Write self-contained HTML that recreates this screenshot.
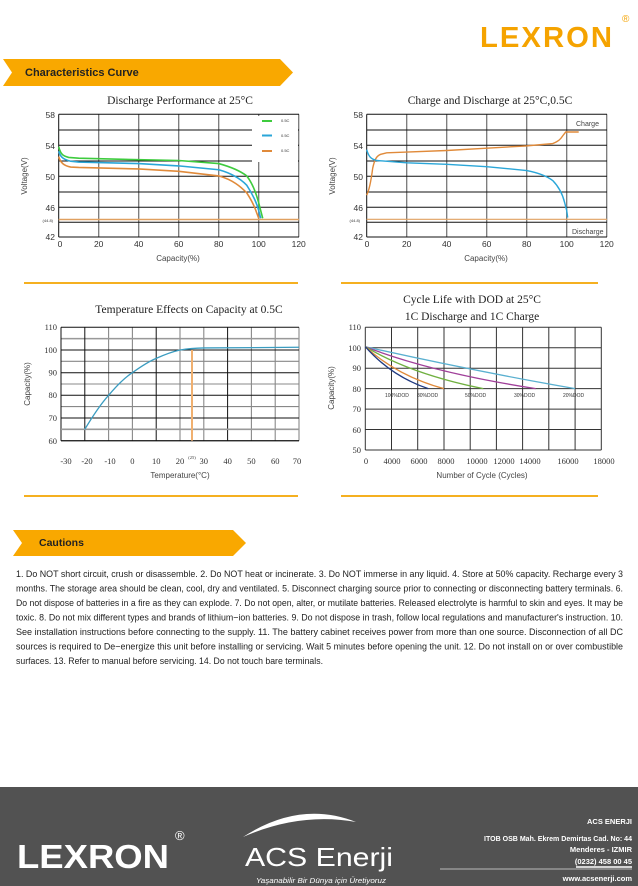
<!DOCTYPE html>
<html><head><meta charset="utf-8"><style>
body{margin:0;width:638px;height:886px;background:#fff;overflow:hidden;font-family:"Liberation Sans",sans-serif}
svg{position:absolute;left:0;top:0}
</style></head><body>
<svg width="638" height="886" viewBox="0 0 638 886" xmlns="http://www.w3.org/2000/svg" font-family="Liberation Sans, sans-serif">
<!-- header -->
<text x="480" y="47" font-size="29" font-weight="bold" fill="#f5a300" letter-spacing="2" textLength="134" lengthAdjust="spacingAndGlyphs">LEXRON</text>
<text x="622" y="22" font-size="10" fill="#f5a300">®</text>
<polygon points="3,59 280,59 293,72.5 280,86 3,86 12,72.5" fill="#f9a800"/>
<text x="25" y="76" font-size="11" font-weight="bold" fill="#222">Characteristics Curve</text>

<!-- chart 1 -->
<text x="180" y="104" font-family="Liberation Serif, serif" font-size="11.5" text-anchor="middle" fill="#222">Discharge Performance at 25°C</text>
<g stroke="#777" stroke-width="1.3">
<line x1="98.7" y1="114.3" x2="98.7" y2="237"/><line x1="138.7" y1="114.3" x2="138.7" y2="237"/><line x1="178.7" y1="114.3" x2="178.7" y2="237"/><line x1="218.7" y1="114.3" x2="218.7" y2="237"/><line x1="258.7" y1="114.3" x2="258.7" y2="237"/><line x1="298.7" y1="114.3" x2="298.7" y2="237"/>
</g>
<g stroke="#111" stroke-width="1">
<line x1="58.7" y1="114.3" x2="299" y2="114.3"/><line x1="58.7" y1="130" x2="299" y2="130"/><line x1="58.7" y1="145.3" x2="299" y2="145.3"/><line x1="58.7" y1="161" x2="299" y2="161"/><line x1="58.7" y1="176.3" x2="299" y2="176.3"/><line x1="58.7" y1="192" x2="299" y2="192"/><line x1="58.7" y1="207.3" x2="299" y2="207.3"/><line x1="58.7" y1="222.3" x2="299" y2="222.3"/><line x1="58.7" y1="237" x2="299" y2="237"/>
<line x1="58.7" y1="114.3" x2="58.7" y2="237"/>
</g>
<line x1="58.7" y1="219.5" x2="299" y2="219.5" stroke="#e0a060" stroke-width="1.5"/>
<rect x="252" y="116" width="46" height="46" fill="#fff"/>
<g fill="none" stroke-width="1.6" vector-effect="non-scaling-stroke">
<g transform="translate(58.7,114.3) scale(2,-7.7) translate(0,-58)">
<path vector-effect="non-scaling-stroke" stroke="#3ecb3e" d="M0,53.8 C1,52.8 2,52.6 5,52.4 L10,52.3 L40,52.1 L60,52 L80,51.6 C87,51.1 91,50.6 94,50 C97,49 99,47.5 100,46.5 L101,45.5 L102,44.5"/>
<path vector-effect="non-scaling-stroke" stroke="#2aa6d8" d="M0,53.2 C1,52.3 3,52.1 6,51.9 L10,51.8 L40,51.6 L60,51.3 L80,50.8 C87,50.3 91,49.6 94,48.8 C97,47.6 99,46.5 100,45.5 L101,44.5"/>
<path vector-effect="non-scaling-stroke" stroke="#e08a3a" d="M0,52.5 C1,51.6 3,51.3 6,51.15 L10,51.1 L40,50.9 L60,50.6 L80,50 C87,49.5 91,48.6 94,47.8 C96,47 98,46 99,45.2 L100,44.5"/>
</g>
</g>
<line x1="262" y1="121" x2="272" y2="121" stroke="#3ecb3e" stroke-width="2"/>
<line x1="262" y1="135.5" x2="272" y2="135.5" stroke="#2aa6d8" stroke-width="2"/>
<line x1="262" y1="151" x2="272" y2="151" stroke="#e08a3a" stroke-width="2"/>
<g font-size="4" fill="#333"><text x="281" y="122">0.5C</text><text x="281" y="137">0.5C</text><text x="281" y="152">0.5C</text></g>
<g font-size="8.5" fill="#333" text-anchor="end"><text x="55" y="118">58</text><text x="55" y="149">54</text><text x="55" y="180">50</text><text x="55" y="211">46</text><text x="55" y="240">42</text><text x="53" y="222" font-size="4">(44.8)</text></g>
<g font-size="8.5" fill="#333" text-anchor="middle"><text x="60" y="247">0</text><text x="98.7" y="247">20</text><text x="138.7" y="247">40</text><text x="178.7" y="247">60</text><text x="218.7" y="247">80</text><text x="258.7" y="247">100</text><text x="298.7" y="247">120</text></g>
<text x="178" y="261" font-size="8" fill="#444" text-anchor="middle">Capacity(%)</text>
<text transform="translate(27,176) rotate(-90)" font-size="8" fill="#444" text-anchor="middle">Voltage(V)</text>

<!-- chart 2 -->
<text x="490" y="104" font-family="Liberation Serif, serif" font-size="11.5" text-anchor="middle" fill="#222">Charge and Discharge at 25°C,0.5C</text>
<g stroke="#777" stroke-width="1.3">
<line x1="406.7" y1="114.3" x2="406.7" y2="237"/><line x1="446.7" y1="114.3" x2="446.7" y2="237"/><line x1="486.7" y1="114.3" x2="486.7" y2="237"/><line x1="526.7" y1="114.3" x2="526.7" y2="237"/><line x1="566.7" y1="114.3" x2="566.7" y2="237"/><line x1="606.7" y1="114.3" x2="606.7" y2="237"/>
</g>
<g stroke="#111" stroke-width="1">
<line x1="366.7" y1="114.3" x2="607" y2="114.3"/><line x1="366.7" y1="130" x2="607" y2="130"/><line x1="366.7" y1="145.3" x2="607" y2="145.3"/><line x1="366.7" y1="161" x2="607" y2="161"/><line x1="366.7" y1="176.3" x2="607" y2="176.3"/><line x1="366.7" y1="192" x2="607" y2="192"/><line x1="366.7" y1="207.3" x2="607" y2="207.3"/><line x1="366.7" y1="222.3" x2="607" y2="222.3"/><line x1="366.7" y1="237" x2="607" y2="237"/>
<line x1="366.7" y1="114.3" x2="366.7" y2="237"/>
</g>
<line x1="366.7" y1="219.3" x2="607" y2="219.3" stroke="#e0a060" stroke-width="1.2"/>
<rect x="568" y="116" width="38" height="12" fill="#fff"/>
<rect x="568" y="224" width="38" height="12" fill="#fff"/>
<g fill="none" transform="translate(366.7,114.3) scale(2,-7.7) translate(0,-58)">
<path vector-effect="non-scaling-stroke" stroke="#e08a3a" stroke-width="1.4" d="M0,47.5 C1,48 2,49 3,51 C4,52.2 5,52.6 7,52.8 L10,53 L20,53.1 L40,53.3 L60,53.6 L80,53.9 L93,54.2 C96,54.5 97,54.8 98,55.2 L99.5,55.7 L106,55.7"/>
<path vector-effect="non-scaling-stroke" stroke="#2aa6d8" stroke-width="1.4" d="M0,53.4 C1,52.5 2,52.2 5,52 L20,51.7 L40,51.5 L60,51.2 L80,50.7 C86,50.4 90,50 93,49.4 C96,48.6 98,47.6 99,46.5 L100,45.5 L100.5,44.6"/>
</g>
<g font-size="7" fill="#444"><text x="576" y="126">Charge</text><text x="572" y="234">Discharge</text></g>
<g font-size="8.5" fill="#333" text-anchor="end"><text x="363" y="118">58</text><text x="363" y="149">54</text><text x="363" y="180">50</text><text x="363" y="211">46</text><text x="363" y="240">42</text><text x="360" y="222" font-size="4">(44.8)</text></g>
<g font-size="8.5" fill="#333" text-anchor="middle"><text x="367" y="247">0</text><text x="406.7" y="247">20</text><text x="446.7" y="247">40</text><text x="486.7" y="247">60</text><text x="526.7" y="247">80</text><text x="566.7" y="247">100</text><text x="606.7" y="247">120</text></g>
<text x="486" y="261" font-size="8" fill="#444" text-anchor="middle">Capacity(%)</text>
<text transform="translate(335,176) rotate(-90)" font-size="8" fill="#444" text-anchor="middle">Voltage(V)</text>

<!-- dividers -->
<line x1="24" y1="283" x2="298" y2="283" stroke="#f5b020" stroke-width="2"/>
<line x1="341" y1="283" x2="598" y2="283" stroke="#f5b020" stroke-width="2"/>
<line x1="24" y1="496" x2="298" y2="496" stroke="#f5b020" stroke-width="2"/>
<line x1="341" y1="496" x2="598" y2="496" stroke="#f5b020" stroke-width="2"/>

<!-- chart 3 -->
<text x="189" y="313" font-family="Liberation Serif, serif" font-size="11.5" text-anchor="middle" fill="#222">Temperature Effects on Capacity at 0.5C</text>
<g stroke="#888" stroke-width="1.1">
<line x1="61" y1="338.6" x2="299" y2="338.6"/><line x1="61" y1="361.3" x2="299" y2="361.3"/><line x1="61" y1="384" x2="299" y2="384"/><line x1="61" y1="406.6" x2="299" y2="406.6"/><line x1="61" y1="429.3" x2="299" y2="429.3"/>
<line x1="108.6" y1="327.3" x2="108.6" y2="440.7"/><line x1="132.4" y1="327.3" x2="132.4" y2="440.7"/><line x1="180" y1="327.3" x2="180" y2="440.7"/><line x1="203.8" y1="327.3" x2="203.8" y2="440.7"/><line x1="251.4" y1="327.3" x2="251.4" y2="440.7"/><line x1="275.2" y1="327.3" x2="275.2" y2="440.7"/><line x1="299" y1="327.3" x2="299" y2="440.7"/>
</g>
<line x1="61" y1="440.7" x2="299" y2="440.7" stroke="#111"/>
<line x1="61" y1="338.6" x2="299" y2="338.6" stroke="#999" stroke-width="1.5"/>
<g stroke="#111" stroke-width="1">
<line x1="61" y1="327.3" x2="299" y2="327.3"/><line x1="61" y1="350" x2="299" y2="350"/><line x1="61" y1="372.7" x2="299" y2="372.7"/><line x1="61" y1="395.3" x2="299" y2="395.3"/><line x1="61" y1="418" x2="299" y2="418"/>
<line x1="61" y1="327.3" x2="61" y2="440.7"/><line x1="84.8" y1="327.3" x2="84.8" y2="440.7"/><line x1="156.2" y1="327.3" x2="156.2" y2="440.7"/><line x1="227.6" y1="327.3" x2="227.6" y2="440.7"/>
</g>
<line x1="61" y1="440.7" x2="299" y2="440.7" stroke="#111"/>
<line x1="61" y1="429.3" x2="299" y2="429.3" stroke="#999" stroke-width="1.6"/>
<line x1="192" y1="350" x2="192" y2="440.7" stroke="#f0b070" stroke-width="2"/>
<g fill="none" transform="translate(132.4,576.7) scale(2.38,-2.267)">
<path vector-effect="non-scaling-stroke" stroke="#3a9cc0" stroke-width="1.3" d="M-20,65 C-16,72 -13,76.5 -10,80 C-6,85 -3,88 0,90 C4,93 7,95 10,96.3 C14,98.2 17,99.3 20,100 C23,100.5 26,100.8 30,100.9 L70,101.2"/>
</g>
<g font-size="8.5" fill="#333" text-anchor="end" font-family="Liberation Serif, serif"><text x="57" y="330">110</text><text x="57" y="353">100</text><text x="57" y="375.5">90</text><text x="57" y="398">80</text><text x="57" y="421">70</text><text x="57" y="444">60</text></g>
<g font-size="8.5" fill="#333" text-anchor="middle" font-family="Liberation Serif, serif"><text x="66" y="464">-30</text><text x="87" y="464">-20</text><text x="110" y="464">-10</text><text x="132.4" y="464">0</text><text x="156.2" y="464">10</text><text x="180" y="464">20</text><text x="203.8" y="464">30</text><text x="227.6" y="464">40</text><text x="251.4" y="464">50</text><text x="275.2" y="464">60</text><text x="297" y="464">70</text><text x="192" y="459" font-size="4.5">(25)</text></g>
<text x="180" y="478" font-size="8" fill="#444" text-anchor="middle">Temperature(°C)</text>
<text transform="translate(30,384) rotate(-90)" font-size="8" fill="#444" text-anchor="middle">Capacity(%)</text>

<!-- chart 4 -->
<text x="472" y="303" font-family="Liberation Serif, serif" font-size="11.5" text-anchor="middle" fill="#222">Cycle Life with DOD at 25°C</text>
<text x="472" y="320" font-family="Liberation Serif, serif" font-size="11.5" text-anchor="middle" fill="#222">1C Discharge and 1C Charge</text>
<g stroke="#333" stroke-width="1">
<line x1="365.3" y1="327.3" x2="601.3" y2="327.3"/><line x1="365.3" y1="347.7" x2="601.3" y2="347.7"/><line x1="365.3" y1="368.2" x2="601.3" y2="368.2"/><line x1="365.3" y1="388.6" x2="601.3" y2="388.6"/><line x1="365.3" y1="409.1" x2="601.3" y2="409.1"/><line x1="365.3" y1="429.5" x2="601.3" y2="429.5"/><line x1="365.3" y1="450" x2="601.3" y2="450"/>
<line x1="365.3" y1="327.3" x2="365.3" y2="450"/><line x1="391.5" y1="327.3" x2="391.5" y2="450"/><line x1="417.7" y1="327.3" x2="417.7" y2="450"/><line x1="444" y1="327.3" x2="444" y2="450"/><line x1="470.2" y1="327.3" x2="470.2" y2="450"/><line x1="496.4" y1="327.3" x2="496.4" y2="450"/><line x1="522.6" y1="327.3" x2="522.6" y2="450"/><line x1="548.8" y1="327.3" x2="548.8" y2="450"/><line x1="575.1" y1="327.3" x2="575.1" y2="450"/><line x1="601.3" y1="327.3" x2="601.3" y2="450"/>
</g>
<g fill="none" transform="translate(365.3,552.25) scale(0.01311,-2.045)">
<path vector-effect="non-scaling-stroke" stroke="#5ab0d0" stroke-width="1.3" d="M0,100.5 Q8000,89 16000,80"/>
<path vector-effect="non-scaling-stroke" stroke="#a0409a" stroke-width="1.3" d="M0,100.5 Q5000,88 13000,80"/>
<path vector-effect="non-scaling-stroke" stroke="#70b040" stroke-width="1.3" d="M0,100.5 Q3500,87 9000,80"/>
<path vector-effect="non-scaling-stroke" stroke="#e08a3a" stroke-width="1.3" d="M0,100.5 Q2500,86 6000,80"/>
<path vector-effect="non-scaling-stroke" stroke="#203a80" stroke-width="1.3" d="M0,100.5 Q2000,86 4800,80"/>
</g>
<g font-size="5" fill="#333"><text x="385" y="397">100%DOD</text><text x="417" y="397">80%DOD</text><text x="465" y="397">50%DOD</text><text x="514" y="397">30%DOD</text><text x="563" y="397">20%DOD</text></g>
<g font-size="8.5" fill="#333" text-anchor="end" font-family="Liberation Serif, serif"><text x="361" y="330">110</text><text x="361" y="351">100</text><text x="361" y="371">90</text><text x="361" y="392">80</text><text x="361" y="412">70</text><text x="361" y="433">60</text><text x="361" y="453">50</text></g>
<g font-size="8.5" fill="#333" text-anchor="middle" font-family="Liberation Serif, serif"><text x="366" y="464">0</text><text x="392" y="464">4000</text><text x="419" y="464">6000</text><text x="446" y="464">8000</text><text x="477" y="464">10000</text><text x="504" y="464">12000</text><text x="530" y="464">14000</text><text x="568" y="464">16000</text><text x="604" y="464">18000</text></g>
<text x="482" y="478" font-size="8" fill="#444" text-anchor="middle">Number of Cycle (Cycles)</text>
<text transform="translate(334,388) rotate(-90)" font-size="8" fill="#444" text-anchor="middle">Capacity(%)</text>

<!-- cautions -->
<polygon points="13,530 233,530 246,543 233,556 13,556 22,543" fill="#f9a800"/>
<text x="39" y="546" font-size="10.5" font-weight="bold" fill="#222">Cautions</text>
<g font-size="9.5" fill="#222" lengthAdjust="spacingAndGlyphs">
<text x="16" y="577" textLength="607" lengthAdjust="spacingAndGlyphs">1. Do NOT short circuit, crush or disassemble. 2. Do NOT heat or incinerate. 3. Do NOT immerse in any liquid. 4. Store at 50% capacity. Recharge every 3</text>
<text x="16" y="591.5" textLength="607" lengthAdjust="spacingAndGlyphs">months. The storage area should be clean, cool, dry and ventilated. 5. Disconnect charging source prior to connecting or disconnecting battery terminals. 6.</text>
<text x="16" y="606" textLength="607" lengthAdjust="spacingAndGlyphs">Do not dispose of batteries in a fire as they can explode. 7. Do not open, alter, or mutilate batteries. Released electrolyte is harmful to skin and eyes. It may be</text>
<text x="16" y="620.5" textLength="607" lengthAdjust="spacingAndGlyphs">toxic. 8. Do not mix different types and brands of lithium−ion batteries. 9. Do not dispose in trash, follow local regulations and manufacturer's instruction. 10.</text>
<text x="16" y="635" textLength="607" lengthAdjust="spacingAndGlyphs">See installation instructions before connecting to the supply. 11. The battery cabinet receives power from more than one source. Disconnection of all DC</text>
<text x="16" y="649.5" textLength="607" lengthAdjust="spacingAndGlyphs">sources is required to De−energize this unit before installing or servicing. Wait 5 minutes before opening the unit. 12. Do not install on or over combustible</text>
<text x="16" y="664" textLength="307" lengthAdjust="spacingAndGlyphs">surfaces. 13. Refer to manual before servicing. 14. Do not touch bare terminals.</text>
</g>

<!-- footer -->
<rect x="0" y="787" width="638" height="99" fill="#525252"/>
<text x="17" y="868" font-size="33" font-weight="bold" fill="#fff" textLength="152" lengthAdjust="spacingAndGlyphs">LEXRON</text>
<text x="175" y="840" font-size="13" fill="#fff">®</text>
<path d="M243,837 Q300,800 356,822 Q300,812 243,837 Z" fill="#fff"/>
<text x="245" y="866" font-size="26" fill="#fff" textLength="148" lengthAdjust="spacingAndGlyphs">ACS Enerji</text>
<text x="256" y="883" font-size="7" font-style="italic" fill="#fff" textLength="130" lengthAdjust="spacingAndGlyphs">Yaşanabilir Bir Dünya için Üretiyoruz</text>
<g font-size="7.5" font-weight="bold" fill="#fff" text-anchor="end">
<text x="632" y="824">ACS ENERJI</text>
<text x="632" y="841" textLength="148" lengthAdjust="spacingAndGlyphs">ITOB OSB Mah. Ekrem Demirtas Cad. No: 44</text>
<text x="632" y="852">Menderes - IZMIR</text>
<text x="632" y="864">(0232) 458 00 45</text>
<text x="632" y="881">www.acsenerji.com</text>
</g>
<line x1="440" y1="869" x2="632" y2="869" stroke="#ddd" stroke-width="0.8"/>
<line x1="576" y1="867" x2="632" y2="867" stroke="#fff" stroke-width="1.5"/>
</svg>
</body></html>
